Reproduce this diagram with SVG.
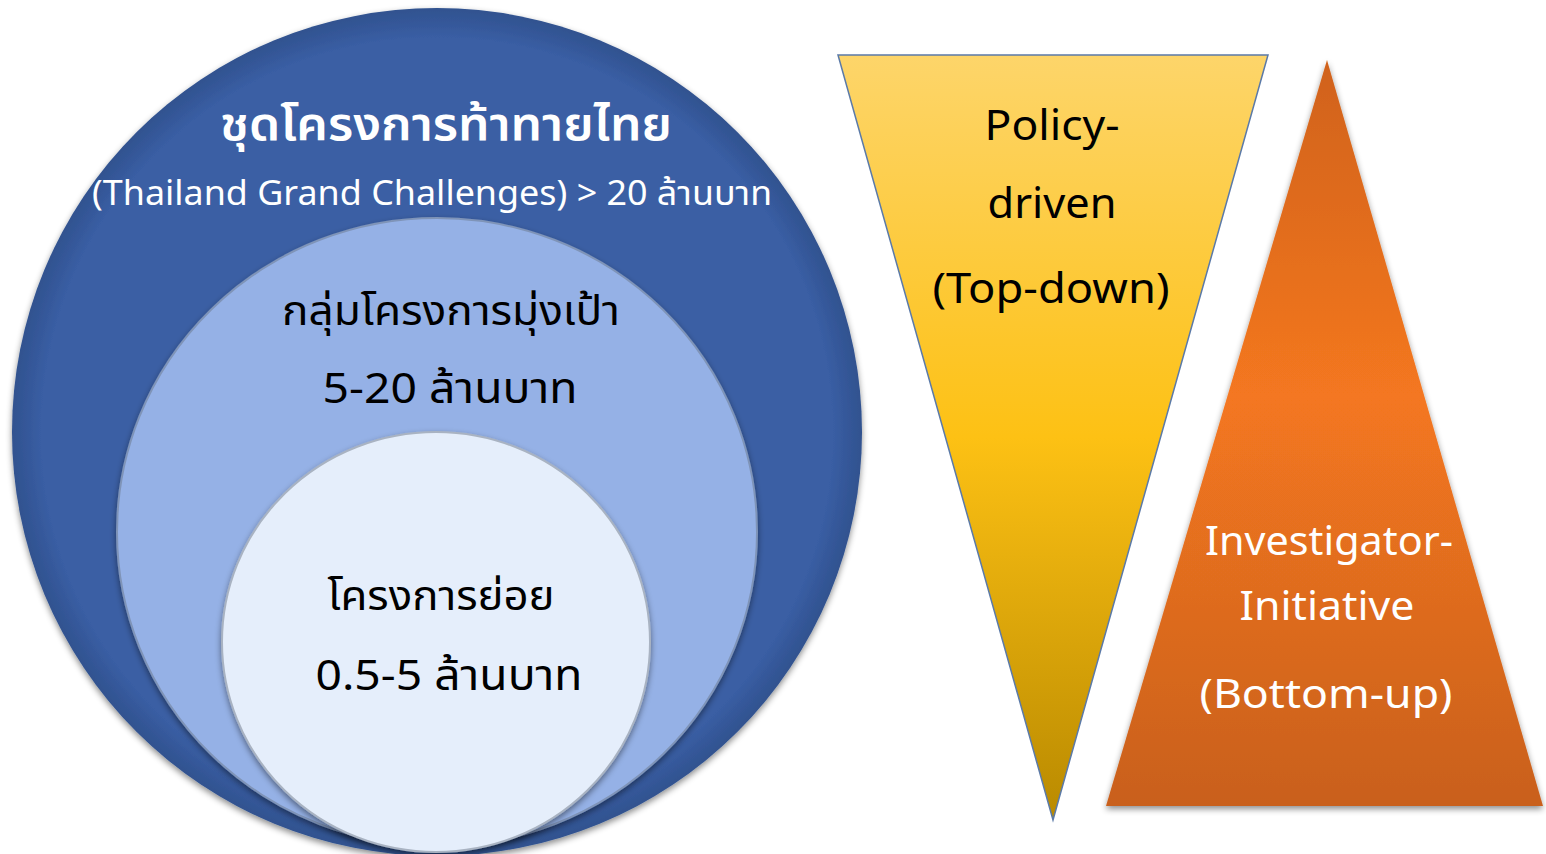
<svg xmlns="http://www.w3.org/2000/svg" width="1546" height="854" viewBox="0 0 1546 854">
<defs>
<style>
.t{font-family:"Noto Sans Thai","Noto Sans","DejaVu Sans",sans-serif;text-anchor:middle}
.w{fill:#ffffff}
.k{fill:#000000}
</style>
<radialGradient id="gOuter" cx="0.5" cy="0.5" r="0.5">
<stop offset="0.93" stop-color="#3a5ea4"/>
<stop offset="1" stop-color="#30528f"/>
</radialGradient>
<linearGradient id="gYellow" x1="0" y1="0" x2="0" y2="1">
<stop offset="0" stop-color="#fdd56a"/>
<stop offset="0.5" stop-color="#fdc114"/>
<stop offset="1" stop-color="#b98a00"/>
</linearGradient>
<linearGradient id="gOrange" x1="0" y1="0" x2="0" y2="1">
<stop offset="0" stop-color="#d0621a"/>
<stop offset="0.45" stop-color="#f47720"/>
<stop offset="1" stop-color="#c9601e"/>
</linearGradient>
<filter id="sh" x="-10%" y="-10%" width="120%" height="120%">
<feDropShadow dx="0" dy="3" stdDeviation="3" flood-color="#000" flood-opacity="0.45"/>
</filter>
</defs>
<rect width="1546" height="854" fill="#ffffff"/>
<g id="outer-circle">
<ellipse cx="437" cy="432" rx="425" ry="424" fill="url(#gOuter)" filter="url(#sh)"/>
<text class="t w" x="446" y="140" font-size="46" font-weight="600" textLength="452" lengthAdjust="spacingAndGlyphs">ชุดโครงการท้าทายไทย</text>
<text class="t w" x="432" y="205" font-size="34" textLength="680" lengthAdjust="spacingAndGlyphs">(Thailand Grand Challenges) &gt; 20 ล้านบาท</text>
</g>
<g id="middle-circle">
<ellipse cx="437" cy="532" rx="320" ry="314" fill="#95b1e6" stroke="#7f94b8" stroke-width="2" filter="url(#sh)"/>
<text class="t k" x="451" y="325" font-size="41" textLength="338" lengthAdjust="spacingAndGlyphs">กลุ่มโครงการมุ่งเป้า</text>
<text class="t k" x="450" y="403" font-size="42" textLength="255" lengthAdjust="spacingAndGlyphs">5-20 ล้านบาท</text>
</g>
<g id="inner-circle">
<ellipse cx="436" cy="642" rx="214" ry="210" fill="#e5eefb" stroke="#a9b3c2" stroke-width="2" filter="url(#sh)"/>
<text class="t k" x="441" y="610" font-size="41" textLength="227" lengthAdjust="spacingAndGlyphs">โครงการย่อย</text>
<text class="t k" x="449" y="690" font-size="42" textLength="267" lengthAdjust="spacingAndGlyphs">0.5-5 ล้านบาท</text>
</g>
<g id="policy-driven">
<polygon points="838,55 1268,55 1053,820" fill="url(#gYellow)" stroke="#5b7aa8" stroke-width="1.5"/>
<text class="t k" x="1052" y="140" font-size="41" textLength="135" lengthAdjust="spacingAndGlyphs">Policy-</text>
<text class="t k" x="1052" y="218" font-size="41" textLength="129" lengthAdjust="spacingAndGlyphs">driven</text>
<text class="t k" x="1051" y="303" font-size="41" textLength="237" lengthAdjust="spacingAndGlyphs">(Top-down)</text>
</g>
<g id="investigator-initiative">
<polygon points="1327,60 1543,806 1106,806" fill="url(#gOrange)" filter="url(#sh)"/>
<text class="t w" x="1329" y="555" font-size="40" textLength="248" lengthAdjust="spacingAndGlyphs">Investigator-</text>
<text class="t w" x="1327" y="620" font-size="40" textLength="175" lengthAdjust="spacingAndGlyphs">Initiative</text>
<text class="t w" x="1326" y="708" font-size="40" textLength="253" lengthAdjust="spacingAndGlyphs">(Bottom-up)</text>
</g>
<g id="connectors"/>
</svg>
